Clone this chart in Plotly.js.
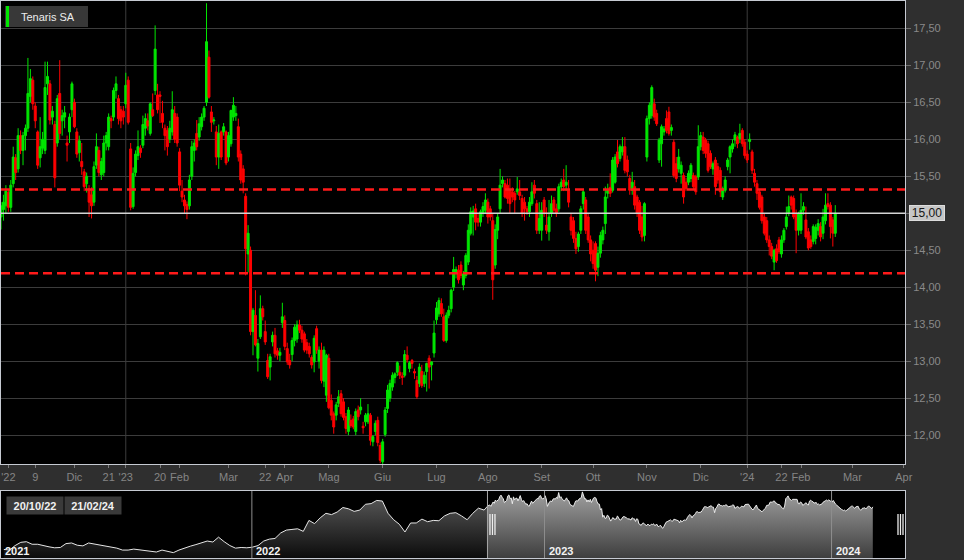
<!DOCTYPE html>
<html>
<head>
<meta charset="utf-8">
<script src="https://cdn.plot.ly/plotly-3.0.1.min.js"></script>
<style>
html,body{margin:0;padding:0;background:#2f2f2f;overflow:hidden}
#chart{width:964px;height:560px}
</style>
</head>
<body>
<div id="chart"></div>
<script>
// ---------------- DATA ----------------
const seriesName = 'Tenaris SA';
const firstDay = '2022-10-20';
const holidays = ['2022-12-26','2023-04-07','2023-04-10','2023-05-01','2023-08-15','2023-12-25','2023-12-26','2024-01-01'];

// daily candles [open, high, low, close]
const oct22 = [[14.95,15.15,14.78,15.10],[15.05,15.25,14.90,15.15],[15.10,15.38,15.00,15.30],[15.28,15.32,15.02,15.08],[15.08,15.45,15.02,15.38],[15.40,15.90,15.35,15.76],[15.75,15.80,15.45,15.55],[15.60,16.15,15.55,16.05]];
const nov22 = [[16.05,16.12,15.80,15.85],[15.85,16.10,15.65,16.05],[16.05,16.20,15.85,16.15],[16.15,17.10,16.10,16.62],[16.58,16.95,16.50,16.82],[16.80,16.85,16.40,16.48],[16.45,16.50,16.15,16.25],[16.10,16.12,15.60,15.65],[15.75,16.30,15.62,15.90],[15.88,16.10,15.80,16.00],[15.85,17.05,15.80,16.70],[16.75,17.05,16.60,16.85],[16.75,16.80,16.20,16.26],[16.30,16.45,16.20,16.38],[16.20,16.25,15.35,15.48],[15.95,16.60,15.90,16.55],[16.62,17.07,16.00,16.08],[16.25,16.40,16.05,16.32],[16.30,16.45,16.15,16.36],[15.95,16.05,15.70,15.92],[16.10,16.35,15.95,16.30],[16.40,16.78,16.30,16.75]];
const dec22 = [[16.50,16.55,16.15,16.17],[16.10,16.15,15.75,15.80],[15.82,16.05,15.70,15.98],[15.70,15.95,15.52,15.63],[15.56,15.60,15.30,15.36],[15.40,15.55,15.28,15.50],[15.33,15.38,14.95,15.15],[15.25,15.35,14.93,15.10],[15.15,15.70,15.10,15.63],[15.65,16.08,15.60,15.90],[15.85,15.90,15.50,15.55],[15.52,15.75,15.45,15.70],[15.55,16.05,15.50,15.95],[15.95,16.10,15.85,16.05],[15.90,16.35,15.85,16.30],[16.28,16.32,16.15,16.25],[16.30,16.70,16.25,16.66],[16.66,16.85,16.55,16.75],[16.55,16.60,16.20,16.28],[16.40,16.45,16.15,16.25],[16.38,16.45,16.20,16.30]];
const jan23 = [[16.48,16.90,16.42,16.73],[16.80,16.85,16.20,16.23],[15.87,15.95,15.04,15.08],[15.09,15.62,15.06,15.54],[15.55,15.85,15.50,15.80],[15.78,16.12,15.72,15.90],[15.88,15.92,15.75,15.82],[15.92,16.32,15.88,16.20],[16.15,16.35,16.05,16.28],[16.25,16.35,16.12,16.18],[16.08,16.50,16.05,16.48],[16.40,16.62,16.30,16.32],[16.66,17.54,16.60,17.22],[16.60,16.75,16.35,16.40],[16.60,16.65,16.22,16.58],[16.35,16.52,16.15,16.23],[16.15,16.20,15.85,16.05],[16.12,16.18,15.78,15.90],[16.00,16.25,15.95,16.15],[16.10,16.65,16.05,16.40],[16.35,16.45,15.95,16.00],[16.30,16.35,15.90,15.95]];
const feb23 = [[15.83,15.88,15.30,15.38],[15.30,15.45,15.15,15.22],[15.18,15.25,15.00,15.10],[15.12,15.16,14.92,15.05],[15.10,15.52,15.05,15.45],[15.50,15.98,15.45,15.90],[15.85,16.00,15.70,15.95],[16.08,16.26,15.85,15.90],[16.03,16.30,15.98,16.21],[16.17,16.35,16.12,16.30],[16.30,16.45,16.25,16.42],[16.50,17.84,16.45,17.32],[17.11,17.20,16.55,16.57],[16.37,16.45,16.10,16.23],[16.25,16.30,16.20,16.26],[16.10,16.18,15.65,15.76],[15.76,16.20,15.60,16.08],[16.10,16.12,15.72,15.76],[16.10,16.22,16.05,16.17],[16.10,16.12,15.65,15.68]];
const mar23 = [[15.76,16.10,15.70,16.05],[15.94,16.40,15.90,16.39],[16.30,16.57,16.25,16.46],[16.32,16.45,16.25,16.35],[16.17,16.28,15.70,15.76],[15.80,15.85,15.40,15.45],[15.60,15.65,15.27,15.42],[15.23,15.27,14.16,14.52],[14.45,14.84,14.20,14.73],[14.50,14.55,13.35,13.40],[13.40,13.72,13.08,13.69],[13.62,13.96,13.20,13.22],[13.04,13.30,12.86,13.24],[13.33,13.89,13.30,13.71],[13.71,13.75,13.55,13.60],[13.40,13.55,13.22,13.26],[13.01,13.10,12.76,12.79],[12.92,13.10,12.74,13.06],[13.26,13.40,13.20,13.35],[13.35,13.45,13.05,13.10],[13.14,13.18,13.02,13.08],[13.08,13.18,13.00,13.12],[13.52,13.79,13.45,13.60]];
const apr23 = [[13.55,13.62,13.15,13.20],[13.17,13.25,12.95,12.99],[13.01,13.10,12.90,12.95],[13.09,13.32,13.00,13.28],[13.28,13.50,13.20,13.46],[13.30,13.55,13.25,13.49],[13.49,13.56,13.38,13.42],[13.42,13.48,13.25,13.30],[13.37,13.40,13.12,13.15],[13.25,13.30,13.10,13.15],[13.20,13.25,13.05,13.10],[13.05,13.08,12.90,12.95],[12.99,13.35,12.85,13.31],[13.44,13.48,13.10,13.15],[13.00,13.20,12.90,13.15],[13.15,13.25,12.70,12.74],[12.73,13.20,12.65,13.15],[12.54,13.10,12.45,13.08]];
const may23 = [[13.04,13.10,12.35,12.37],[12.47,12.55,12.20,12.27],[12.29,12.32,12.02,12.11],[12.27,12.45,12.20,12.41],[12.43,12.61,12.38,12.52],[12.56,12.61,12.25,12.29],[12.45,12.50,12.20,12.24],[12.25,12.30,12.02,12.09],[12.05,12.38,12.00,12.34],[12.20,12.28,12.10,12.13],[12.22,12.26,12.08,12.11],[12.05,12.36,12.00,12.32],[12.34,12.40,12.20,12.25],[12.34,12.50,12.28,12.38],[12.12,12.18,12.02,12.10],[12.18,12.30,12.12,12.27],[12.18,12.42,12.15,12.29],[12.27,12.30,11.86,11.93],[11.91,12.00,11.85,11.98],[12.05,12.20,12.00,12.16],[12.20,12.25,11.85,11.90],[11.86,11.90,11.62,11.66]];
const jun23 = [[11.64,11.95,11.60,11.91],[12.01,12.38,11.98,12.34],[12.36,12.68,12.30,12.61],[12.50,12.75,12.45,12.70],[12.65,12.85,12.60,12.81],[12.78,12.85,12.70,12.83],[12.85,13.00,12.80,12.98],[12.85,12.94,12.76,12.81],[12.80,12.85,12.68,12.78],[12.81,13.15,12.78,13.09],[13.08,13.20,12.98,13.02],[12.90,13.00,12.85,12.98],[13.01,13.03,12.90,12.97],[12.86,12.90,12.76,12.84],[12.74,12.80,12.49,12.52],[12.70,12.97,12.65,12.92],[12.86,12.95,12.64,12.67],[12.70,12.86,12.65,12.81],[12.86,12.98,12.59,12.97],[13.04,13.08,12.63,12.92],[12.95,13.00,12.74,12.99],[13.11,13.55,13.05,13.38]];
const jul23 = [[13.56,13.80,13.50,13.72],[13.64,13.86,13.60,13.82],[13.78,13.85,13.60,13.64],[13.60,13.71,13.26,13.28],[13.28,13.66,13.25,13.62],[13.62,13.75,13.58,13.69],[13.71,13.98,13.66,13.96],[14.00,14.41,13.95,14.24],[14.20,14.28,14.12,14.24],[14.23,14.30,14.05,14.10],[14.30,14.35,14.12,14.16],[14.03,14.22,13.96,14.18],[14.16,14.46,14.12,14.43],[14.34,14.85,14.30,14.77],[14.73,15.08,14.70,15.02],[14.95,15.10,14.70,15.03],[15.06,15.13,14.77,14.88],[14.93,15.00,14.82,14.88],[14.88,15.05,14.82,15.02],[15.00,15.15,14.95,15.09],[15.04,15.27,15.00,15.18]];
const aug23 = [[15.15,15.20,14.86,14.95],[15.06,15.10,14.90,14.95],[14.90,15.00,13.83,14.10],[14.30,14.85,14.25,14.78],[14.77,15.00,14.65,14.95],[15.06,15.60,15.00,15.38],[15.40,15.50,15.35,15.45],[15.40,15.45,15.20,15.22],[15.38,15.47,15.13,15.20],[15.31,15.47,15.00,15.13],[15.29,15.35,15.15,15.22],[15.27,15.30,15.00,15.18],[15.29,15.49,15.25,15.33],[15.29,15.45,15.18,15.24],[15.20,15.25,14.95,15.00],[15.15,15.22,14.90,15.06],[15.06,15.10,14.98,15.02],[15.02,15.22,14.95,15.15],[15.13,15.42,15.10,15.29],[15.38,15.45,15.20,15.27],[15.13,15.18,14.72,14.77],[14.77,15.15,14.72,14.93]];
const sep23 = [[14.77,15.15,14.63,15.04],[15.18,15.22,14.95,15.00],[14.84,15.08,14.72,14.77],[14.75,15.18,14.63,14.95],[15.00,15.24,14.95,15.13],[15.18,15.22,15.00,15.04],[15.06,15.13,14.95,15.00],[15.06,15.40,15.02,15.36],[15.36,15.47,15.30,15.42],[15.45,15.60,15.30,15.36],[15.38,15.65,15.30,15.42],[15.31,15.45,15.08,15.15],[14.95,15.00,14.70,14.77],[14.90,14.95,14.60,14.66],[14.66,14.75,14.45,14.52],[14.55,14.75,14.48,14.72],[14.77,15.10,14.72,15.06],[15.13,15.31,15.05,15.29],[15.18,15.22,14.72,14.77],[14.95,15.00,14.60,14.64],[14.64,14.70,14.35,14.45]];
const oct23 = [[14.50,14.62,14.25,14.32],[14.59,14.62,14.08,14.23],[14.27,14.55,14.15,14.46],[14.46,14.75,14.40,14.70],[14.64,14.82,14.58,14.77],[14.86,15.36,14.72,15.22],[15.27,15.40,15.20,15.31],[15.35,15.54,15.22,15.27],[15.31,15.76,15.28,15.72],[15.42,15.80,15.40,15.76],[15.83,15.99,15.62,15.67],[15.74,15.93,15.70,15.90],[15.83,16.03,15.78,15.90],[15.90,16.03,15.54,15.58],[15.72,15.78,15.50,15.56],[15.47,15.52,15.25,15.31],[15.31,15.56,15.25,15.42],[15.36,15.45,15.05,15.11],[15.22,15.25,14.95,15.00],[15.15,15.18,14.72,14.77],[14.95,15.10,14.62,14.68],[14.70,15.15,14.62,15.13]];
const nov23 = [[15.76,16.32,15.70,16.28],[16.28,16.50,16.20,16.46],[16.32,16.73,16.28,16.70],[16.48,16.55,16.25,16.30],[16.35,16.40,16.18,16.21],[15.72,16.02,15.68,15.99],[15.94,16.20,15.63,16.17],[16.10,16.18,16.05,16.14],[16.28,16.39,16.08,16.12],[16.37,16.44,16.05,16.08],[16.12,16.20,16.05,16.16],[15.96,16.00,15.48,15.51],[15.67,15.76,15.42,15.47],[15.60,15.87,15.55,15.76],[15.54,15.70,15.40,15.65],[15.51,15.55,15.13,15.22],[15.42,15.48,15.30,15.33],[15.42,15.58,15.38,15.54],[15.47,15.68,15.42,15.65],[15.51,15.55,15.32,15.36],[15.49,15.52,15.25,15.29],[15.49,16.19,15.45,15.90]];
const dec23 = [[15.90,16.10,15.85,16.05],[16.03,16.10,15.80,15.85],[15.99,16.02,15.75,15.81],[15.94,15.98,15.55,15.58],[15.81,15.85,15.60,15.63],[15.60,15.70,15.52,15.67],[15.72,15.76,15.25,15.36],[15.63,15.68,15.40,15.45],[15.58,15.62,15.22,15.29],[15.22,15.36,15.18,15.33],[15.31,15.50,15.28,15.45],[15.63,15.75,15.58,15.72],[15.76,15.92,15.54,15.90],[15.87,16.00,15.82,15.94],[15.99,16.10,15.90,16.06],[16.03,16.05,15.88,15.94],[16.01,16.21,15.95,16.08],[16.12,16.15,15.90,15.94],[15.96,16.00,15.74,15.78]];
const jan24 = [[15.80,15.85,15.68,15.72],[15.97,16.08,15.86,16.00],[15.83,15.86,15.53,15.58],[15.54,15.60,15.36,15.42],[15.40,15.45,15.18,15.27],[15.29,15.32,15.05,15.08],[15.22,15.25,14.86,14.90],[14.95,15.00,14.70,14.73],[14.90,14.95,14.60,14.64],[14.64,14.70,14.43,14.55],[14.55,14.60,14.38,14.42],[14.34,14.52,14.23,14.50],[14.52,14.58,14.33,14.36],[14.64,14.68,14.45,14.48],[14.45,14.70,14.40,14.64],[14.64,14.80,14.60,14.77],[14.82,15.09,14.78,14.95],[15.00,15.24,14.96,15.09],[15.22,15.24,15.05,15.11],[15.20,15.24,14.92,14.95],[15.00,15.05,14.46,14.77],[14.77,15.02,14.70,15.00]];
const feb24 = [[14.77,15.27,14.72,15.04],[15.04,15.15,14.98,15.09],[14.91,15.09,14.65,14.68],[14.75,14.80,14.50,14.53],[14.64,14.70,14.52,14.55],[14.62,14.85,14.58,14.82],[14.66,14.85,14.58,14.81],[14.77,14.92,14.70,14.86],[14.82,14.88,14.62,14.68],[14.73,15.06,14.65,14.95],[14.90,15.27,14.85,15.11],[15.13,15.27,15.05,15.09],[15.11,15.15,14.66,14.82],[14.91,14.95,14.55,14.73],[14.73,15.11,14.68,15.00]];

// support / resistance levels (dashed red)
const levels = [15.32, 14.19];

// navigator: weekly closes before the visible window
const historyStart = '2021-03-01';
const history = [8.4,8.3,9.0,9.5,9.6,9.2,9.2,8.95,8.8,8.65,8.7,9.3,9.4,9.05,8.95,9.4,9.25,9.1,8.95,8.8,8.6,8.3,8.3,8.45,8.35,8.2,8.1,8.0,8.3,8.15,7.9,8.3,8.65,8.9,9.15,9.4,9.7,9.55,10.3,9.6,9.0,8.6,8.7,8.65,8.75,9.0,9.7,10.0,10.1,10.95,11.4,11.5,11.6,11.2,12.9,12.4,13.3,14.0,13.8,14.2,14.9,14.7,14.3,14.5,15.4,15.5,16.0,15.9,14.0,13.0,12.3,11.1,12.5,12.5,13.1,12.7,12.9,12.85,13.6,14.0,14.1,13.6,13.0,14.0,14.8,14.5];

// axis ticks
const tickDates = ['2022-10-25','2022-11-09','2022-12-01','2022-12-21','2023-01-02','2023-01-20','2023-02-01','2023-03-01','2023-03-22','2023-04-03','2023-05-02','2023-06-01','2023-07-03','2023-08-01','2023-09-01','2023-10-02','2023-11-01','2023-12-01','2024-01-02','2024-01-22','2024-02-01','2024-03-01','2024-04-01'];
const tickLabels = ["'22",'9','Dic','21',"'23",'20','Feb','Mar','22','Apr','Mag','Giu','Lug','Ago','Set','Ott','Nov','Dic',"'24",'22','Feb','Mar','Apr'];
const yearStarts = ['2022-01-03','2023-01-02','2024-01-02'];
const yearLabels = ['2021','2022','2023','2024'];
const mainRange = ['2022-10-20 12:00','2024-04-02 00:00'];
const navRange = ['2021-02-25 00:00','2024-04-02 00:00'];

// ---------------- BUILD ----------------
const rows = [].concat(oct22,nov22,dec22,jan23,feb23,mar23,apr23,may23,jun23,jul23,aug23,sep23,oct23,nov23,dec23,jan24,feb24);
const opens = rows.map(r=>r[0]), highs = rows.map(r=>r[1]), lows = rows.map(r=>r[2]), closes = rows.map(r=>r[3]);

function tradingDays(start, n, skip){
  const out=[]; const d=new Date(start+'T12:00:00Z');
  while(out.length<n){
    const dow=d.getUTCDay(); const iso=d.toISOString().slice(0,10);
    if(dow!==0 && dow!==6 && skip.indexOf(iso)<0) out.push(iso+' 12:00');
    d.setUTCDate(d.getUTCDate()+1);
  }
  return out;
}
const dates = tradingDays(firstDay, rows.length, holidays);
const histDates = history.map((v,i)=>{const d=new Date(historyStart+'T12:00:00Z'); d.setUTCDate(d.getUTCDate()+7*i); return d.toISOString().slice(0,10)+' 12:00';});

const lastClose = closes[closes.length-1];
const fmtDate = s => s.slice(8,10)+'/'+s.slice(5,7)+'/'+s.slice(2,4);
const breaks = [{bounds:['sat','mon']},{values:holidays}];

const FONT = 'Liberation Sans, Arial, sans-serif';
const mainDom = [96/560, 559/560];
const navDom = [2/560, 69/560];
const navY = [7.07, 17.46];

const traces = [
  {type:'candlestick', x:dates, open:opens, high:highs, low:lows, close:closes, xaxis:'x', yaxis:'y',
   increasing:{line:{color:'#00e600',width:1}, fillcolor:'#00e600'},
   decreasing:{line:{color:'#ff0000',width:1}, fillcolor:'#ff0000'},
   whiskerwidth:0, hoverinfo:'skip', showlegend:false},
  {type:'scatter', mode:'lines', x:histDates.concat([dates[0]]), y:history.concat([closes[0]]), xaxis:'x2', yaxis:'y2',
   line:{color:'#e6e6e6',width:1}, fill:'tozeroy',
   fillgradient:{type:'vertical', colorscale:[[0,'#0c0c0c'],[1,'#5e5e5e']], start:navY[0], stop:navY[1]},
   hoverinfo:'skip', showlegend:false},
  {type:'scatter', mode:'lines', x:dates, y:closes, xaxis:'x2', yaxis:'y2',
   line:{color:'#ececec',width:1}, fill:'tozeroy',
   fillgradient:{type:'vertical', colorscale:[[0,'#3e3e3e'],[1,'#a0a0a0']], start:navY[0], stop:navY[1]},
   hoverinfo:'skip', showlegend:false}
];

const shapes = [];
// year grid lines on main chart
yearStarts.slice(1).forEach(d=>shapes.push({type:'line', xref:'x', yref:'y domain', x0:d+' 12:00', x1:d+' 12:00', y0:0, y1:1, line:{color:'#3c3c3c',width:1}, layer:'below'}));
// levels
levels.forEach(v=>shapes.push({type:'line', xref:'x domain', yref:'y', x0:0, x1:1, y0:v, y1:v, line:{color:'#ff1a1a',width:2.5,dash:'9px,5px'}}));
// last price line
shapes.push({type:'line', xref:'x domain', yref:'y', x0:0, x1:1, y0:lastClose, y1:lastClose, line:{color:'#d4d4d4',width:1.5}});
// navigator year lines
yearStarts.forEach(d=>shapes.push({type:'line', xref:'x2', yref:'y2 domain', x0:d, x1:d, y0:0, y1:1, line:{color:'#8e8e8e',width:1}}));
// selection start line
shapes.push({type:'line', xref:'x2', yref:'y2 domain', x0:dates[0], x1:dates[0], y0:0, y1:1, line:{color:'#a8a8a8',width:1}});
// handles
[2.5,5,7.5].forEach(o=>shapes.push({type:'line', xref:'x2', xsizemode:'pixel', xanchor:dates[0], x0:o, x1:o, yref:'paper', y0:25/560, y1:46/560, line:{color:'#eeeeee',width:1.3}}));
[-7,-4.5,-2].forEach(o=>shapes.push({type:'line', xref:'x2', xsizemode:'pixel', xanchor:navRange[1], x0:o, x1:o, yref:'paper', y0:25/560, y1:46/560, line:{color:'#eeeeee',width:1.3}}));
// legend box
shapes.push({type:'rect', xref:'paper', yref:'paper', x0:4/904, x1:87/904, y0:(560-27)/560, y1:(560-6)/560, fillcolor:'#383838', line:{width:0}});
shapes.push({type:'rect', xref:'paper', yref:'paper', x0:5/904, x1:8/904, y0:(560-27)/560, y1:(560-6)/560, fillcolor:'#00e600', line:{width:0}});

const annotations = [
  {xref:'paper', yref:'paper', x:18/904, y:(560-17)/560, xanchor:'left', yanchor:'middle', text:seriesName, showarrow:false, font:{family:FONT,size:11,color:'#ececec'}},
  {xref:'paper', yref:'y', x:1, y:lastClose, xanchor:'left', yanchor:'middle', xshift:4, text:lastClose.toFixed(2).replace('.',','), showarrow:false,
   bgcolor:'#c6c6c6', bordercolor:'#dcdcdc', borderwidth:1, borderpad:1, width:32, height:12, font:{family:FONT,size:12,color:'#151515'}},
  {xref:'paper', yref:'paper', x:33.5/904, y:(560-505.5)/560, xanchor:'center', yanchor:'middle', text:'<b>'+fmtDate(dates[0])+'</b>', showarrow:false,
   bgcolor:'#3a3a3a', borderpad:1, width:54, height:15, font:{family:FONT,size:11,color:'#f0f0f0'}},
  {xref:'paper', yref:'paper', x:92/904, y:(560-505.5)/560, xanchor:'center', yanchor:'middle', text:'<b>'+fmtDate(dates[dates.length-1])+'</b>', showarrow:false,
   bgcolor:'#3a3a3a', borderpad:1, width:54, height:15, font:{family:FONT,size:11,color:'#f0f0f0'}}
];
[navRange[0]].concat(yearStarts).forEach((d,i)=>annotations.push({xref:'x2', yref:'paper', x:d, y:(560-551)/560, xanchor:'left', yanchor:'middle', xshift:2, text:'<b>'+yearLabels[i]+'</b>', showarrow:false, font:{family:FONT,size:11,color:'#f2f2f2'}}));

const layout = {
  width:964, height:560,
  margin:{l:1, r:59, t:0, b:0, pad:0},
  paper_bgcolor:'#2f2f2f', plot_bgcolor:'#000000',
  separators:',.',
  showlegend:false,
  boxgap:0.2, boxgroupgap:0,
  font:{family:FONT, size:11, color:'#8a8a8a'},
  xaxis:{type:'date', domain:[0,1], anchor:'y', range:mainRange, rangebreaks:breaks, rangeslider:{visible:false},
    tickmode:'array', tickvals:tickDates.map(d=>d+' 12:00'), ticktext:tickLabels,
    ticks:'outside', ticklen:3, tickcolor:'#7a7a7a', tickfont:{family:FONT,size:11,color:'#858585'},
    showgrid:false, zeroline:false, showline:true, mirror:true, linecolor:'#c6cad2', linewidth:1, fixedrange:true},
  yaxis:{domain:mainDom, anchor:'x', side:'right', range:[11.61,17.87], tick0:0, dtick:0.5, tickformat:'.2f',
    ticks:'outside', ticklen:5, tickcolor:'#6e6e6e', tickfont:{family:FONT,size:11,color:'#8a8a8a'},
    showgrid:true, gridcolor:'#3c3c3c', gridwidth:1, zeroline:false, showline:true, mirror:true, linecolor:'#c6cad2', linewidth:1, fixedrange:true},
  xaxis2:{type:'date', domain:[0,1], anchor:'y2', range:navRange, rangebreaks:breaks,
    showticklabels:false, ticks:'', showgrid:false, zeroline:false, showline:true, mirror:true, linecolor:'#c6cad2', linewidth:1, fixedrange:true},
  yaxis2:{domain:navDom, anchor:'x2', range:navY, showticklabels:false, ticks:'', showgrid:false, zeroline:false,
    showline:true, mirror:true, linecolor:'#c6cad2', linewidth:1, fixedrange:true},
  shapes:shapes,
  annotations:annotations
};

Plotly.newPlot('chart', traces, layout, {staticPlot:true, displayModeBar:false});
</script>
</body>
</html>
